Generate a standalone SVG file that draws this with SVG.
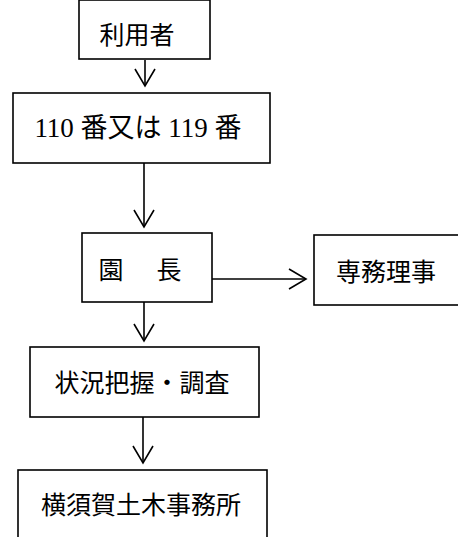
<svg xmlns="http://www.w3.org/2000/svg" width="458" height="537" viewBox="0 0 458 537">
<style>
.box{fill:#fff;stroke:#000;stroke-width:1.6}
.t{font-family:"Liberation Serif","Noto Sans CJK JP",serif;font-size:25px;fill:#000;text-anchor:middle;dominant-baseline:central}
.c{fill:none;stroke:#000;stroke-width:1.6}
</style>
<rect width="458" height="537" fill="#fff"/>
<g id="connectors">
<line class="c" x1="145" y1="60" x2="145" y2="86"/>
<polyline class="c" points="135,69 145,86 155,69"/>
<line class="c" x1="144" y1="163" x2="144" y2="227"/>
<polyline class="c" points="134,210 144,227 154,210"/>
<line class="c" x1="212" y1="279" x2="306" y2="279"/>
<polyline class="c" points="289,269 306,279 289,289"/>
<line class="c" x1="144" y1="302" x2="144" y2="341"/>
<polyline class="c" points="134,324 144,341 154,324"/>
<line class="c" x1="143" y1="417" x2="143" y2="463"/>
<polyline class="c" points="133,446 143,463 153,446"/>
</g>
<g id="n1"><rect class="box" x="79" y="0" width="131" height="59"/><text class="t" x="137" y="35">利用者</text></g>
<g id="n2"><rect class="box" x="13" y="93" width="257" height="70"/><text class="t" x="138" y="128" style="font-size:27px">110 番又は 119 番</text></g>
<g id="n3"><rect class="box" x="82" y="233" width="130" height="69"/><text class="t" x="142" y="270" letter-spacing="4">園　長</text></g>
<g id="n4"><rect class="box" x="314" y="235" width="150" height="70"/><text class="t" x="386" y="272">専務理事</text></g>
<g id="n5"><rect class="box" x="30" y="347" width="229" height="70"/><text class="t" x="142" y="383">状況把握・調査</text></g>
<g id="n6"><rect class="box" x="18" y="470" width="249" height="80"/><text class="t" x="141" y="505">横須賀土木事務所</text></g>
</svg>
